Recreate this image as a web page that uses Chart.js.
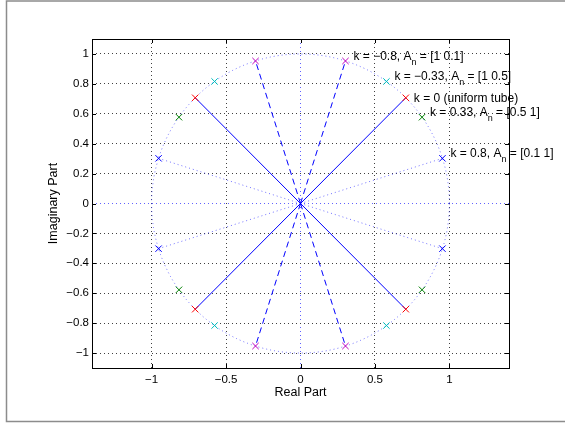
<!DOCTYPE html>
<html>
<head>
<meta charset="utf-8">
<script src="https://cdn.jsdelivr.net/npm/chart.js@4/dist/chart.umd.min.js"></script>
<style>
  html, body { margin: 0; padding: 0; background: #fff; }
  canvas { display: block; }
</style>
</head>
<body>
<canvas id="zplane" width="565" height="426"></canvas>
<script>
// poles for each reflection coefficient k (upper right, upper left, lower left, lower right)
const reKm080 = [0.302, -0.302, -0.302, 0.302];
const imKm080 = [0.953, 0.953, -0.953, -0.953];
const reKm033 = [0.577, -0.577, -0.577, 0.577];
const imKm033 = [0.816, 0.816, -0.816, -0.816];
const reK000 = [0.707, -0.707, -0.707, 0.707];
const imK000 = [0.707, 0.707, -0.707, -0.707];
const reKp033 = [0.816, -0.816, -0.816, 0.816];
const imKp033 = [0.577, 0.577, -0.577, -0.577];
const reKp080 = [0.953, -0.953, -0.953, 0.953];
const imKp080 = [0.302, 0.302, -0.302, -0.302];
const zeroRe = [0];
const zeroIm = [0];

const xTicks = [-1, -0.5, 0, 0.5, 1];
const xTickLabels = ['\u22121', '\u22120.5', '0', '0.5', '1'];
const yTicks = [-1, -0.8, -0.6, -0.4, -0.2, 0, 0.2, 0.4, 0.6, 0.8, 1];
const yTickLabels = ['\u22121', '\u22120.8', '\u22120.6', '\u22120.4', '\u22120.2', '0', '0.2', '0.4', '0.6', '0.8', '1'];

// annotation next to the upper right pole of each case
const noteMain = ['k = \u22120.8, A', 'k = \u22120.33, A', 'k = 0 (uniform tube)', 'k = 0.33, A', 'k = 0.8, A'];
const noteSub = ['n', 'n', '', 'n', 'n'];
const noteTail = [' = [1 0.1]', ' = [1 0.5]', '', ' = [0.5 1]', ' = [0.1 1]'];

const caseRe = [reKm080, reKm033, reK000, reKp033, reKp080];
const caseIm = [imKm080, imKm033, imK000, imKp033, imKp080];
const caseColors = ['#bf00bf', '#00bfbf', '#ff0000', '#008000', '#0000ff'];

const FONT = 'Helvetica, Arial, "Liberation Sans", sans-serif';
Chart.defaults.font.family = FONT;
Chart.defaults.font.size = 11.5;
Chart.defaults.color = '#000';

function pts(re, im) {
    return re.map((x, i) => ({ x: x, y: im[i] }));
}

function spokes(re, im, color, dash) {
    return re.map((x, i) => ({
        data: [{ x: 0, y: 0 }, { x: x, y: im[i] }],
        showLine: true,
        pointRadius: 0,
        borderColor: color,
        borderWidth: 1,
        borderDash: dash,
        order: 5
    }));
}

const datasets = [];
caseRe.forEach((re, c) => {
    datasets.push({
        data: pts(re, caseIm[c]),
        pointStyle: 'crossRot',
        pointRadius: 4.5,
        borderColor: caseColors[c],
        borderWidth: 1,
        order: 0
    });
});
datasets.push({
    data: pts(zeroRe, zeroIm),
    pointStyle: 'crossRot',
    pointRadius: 5.5,
    borderColor: '#0000ff',
    borderWidth: 1,
    order: 0
});
datasets.push(...spokes(reK000, imK000, '#0000ff', []));
datasets.push(...spokes(reKm080, imKm080, '#0000ff', [6, 4]));
datasets.push(...spokes(reKp080, imKp080, 'rgba(70,70,255,0.75)', [1, 3]));

const framePlugin = {
    id: 'frame',
    beforeDraw(chart) {
        const ctx = chart.ctx;
        ctx.save();
        ctx.fillStyle = '#fff';
        ctx.fillRect(0, 0, chart.width, chart.height);
        ctx.strokeStyle = '#8c8c8c';
        ctx.lineWidth = 1.5;
        ctx.beginPath();
        ctx.moveTo(chart.width, 1);
        ctx.lineTo(6.5, 1);
        ctx.lineTo(6.5, 421.5);
        ctx.lineTo(chart.width, 421.5);
        ctx.stroke();
        ctx.restore();
    },
    beforeDatasetsDraw(chart) {
        // unit circle
        const { ctx, chartArea, scales } = chart;
        const cx = scales.x.getPixelForValue(0);
        const cy = scales.y.getPixelForValue(0);
        const rx = scales.x.getPixelForValue(1) - cx;
        const ry = cy - scales.y.getPixelForValue(1);
        ctx.save();
        ctx.beginPath();
        ctx.rect(chartArea.left, chartArea.top, chartArea.width, chartArea.height);
        ctx.clip();
        ctx.strokeStyle = 'rgba(70,70,255,0.75)';
        ctx.lineWidth = 1;
        ctx.setLineDash([1, 3]);
        ctx.beginPath();
        ctx.ellipse(cx, cy, rx, ry, 0, 0, Math.PI * 2);
        ctx.stroke();
        ctx.restore();
    },
    afterDraw(chart) {
        const { ctx, chartArea, scales } = chart;
        const a = chartArea;
        ctx.save();
        // box and inward ticks
        ctx.strokeStyle = '#000';
        ctx.lineWidth = 1;
        ctx.strokeRect(Math.round(a.left) + 0.5, Math.round(a.top) + 0.5, Math.round(a.width), Math.round(a.height));
        ctx.beginPath();
        xTicks.forEach(v => {
            const px = Math.round(scales.x.getPixelForValue(v)) + 0.5;
            ctx.moveTo(px, a.top); ctx.lineTo(px, a.top + 4);
            ctx.moveTo(px, a.bottom); ctx.lineTo(px, a.bottom - 4);
        });
        yTicks.forEach(v => {
            const py = Math.round(scales.y.getPixelForValue(v)) + 0.5;
            ctx.moveTo(a.left, py); ctx.lineTo(a.left + 4, py);
            ctx.moveTo(a.right, py); ctx.lineTo(a.right - 4, py);
        });
        ctx.stroke();

        // text notes
        ctx.fillStyle = '#000';
        ctx.textAlign = 'left';
        ctx.textBaseline = 'alphabetic';
        caseRe.forEach((re, c) => {
            const px = scales.x.getPixelForValue(re[0]) + 8;
            const py = scales.y.getPixelForValue(caseIm[c][0]);
            ctx.font = '12px ' + FONT;
            if (!noteSub[c]) {
                ctx.fillText(noteMain[c], px, py + 4);
                return;
            }
            const base = py - 1;
            ctx.fillText(noteMain[c], px, base);
            let x = px + ctx.measureText(noteMain[c]).width;
            ctx.font = '9px ' + FONT;
            ctx.fillText(noteSub[c], x, base + 5);
            x += ctx.measureText(noteSub[c]).width;
            ctx.font = '12px ' + FONT;
            ctx.fillText(noteTail[c], x, base);
        });
        ctx.restore();
    }
};

const gridColor = (c) => (c.tick && c.tick.value === 0 ? 'rgba(70,70,255,0.85)' : '#404040');

const chart = new Chart(
    document.getElementById('zplane'), {
        type: 'scatter',
        data: { datasets: datasets },
        options: {
            responsive: false,
            animation: false,
            layout: { padding: { left: 0, top: 39, right: 56, bottom: 0 } },
            plugins: {
                legend: { display: false },
                tooltip: { enabled: false }
            },
            scales: {
                x: {
                    min: -1.4,
                    max: 1.4,
                    afterFit: s => { s.height = 58; },
                    afterBuildTicks: s => { s.ticks = xTicks.map(v => ({ value: v })); },
                    ticks: {
                        padding: 5,
                        autoSkip: false,
                        maxRotation: 0,
                        callback: (v, i) => xTickLabels[i]
                    },
                    grid: { color: gridColor, drawTicks: false, lineWidth: 1 },
                    border: { display: false, dash: [1, 3] },
                    title: { display: true, text: 'Real Part', font: { size: 12.5 }, padding: { top: 0, bottom: 25.5 } }
                },
                y: {
                    min: -1.1,
                    max: 1.1,
                    afterFit: s => { s.width = 92; },
                    afterBuildTicks: s => { s.ticks = yTicks.map(v => ({ value: v })); },
                    ticks: {
                        padding: 3,
                        autoSkip: false,
                        callback: (v, i) => yTickLabels[i]
                    },
                    grid: { color: gridColor, drawTicks: false, lineWidth: 1 },
                    border: { display: false, dash: [1, 3] },
                    title: { display: true, text: 'Imaginary Part', font: { size: 12.5 }, padding: { top: 45.8, bottom: 0 } }
                }
            }
        },
        plugins: [framePlugin]
    }
);
</script>
</body>
</html>
